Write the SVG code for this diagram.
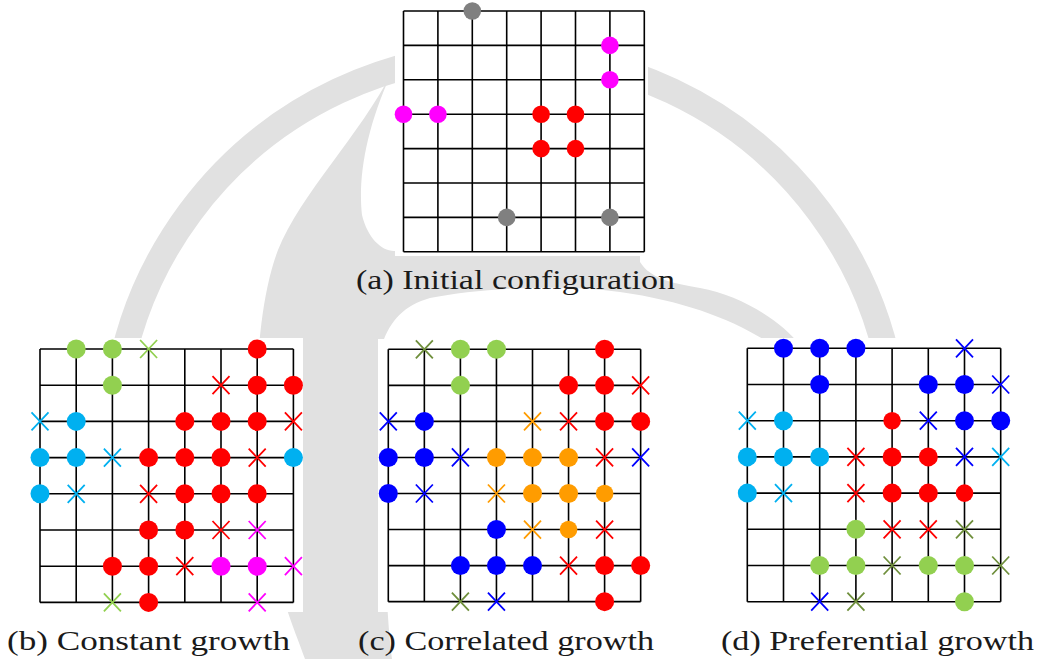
<svg xmlns="http://www.w3.org/2000/svg" xmlns:xlink="http://www.w3.org/1999/xlink" width="1037" height="659" viewBox="0 0 1037 659">
<style>
.bg{fill:#fff}
.wm{fill:#e1e1e1}
.wmring{fill:none;stroke:#e1e1e1;stroke-width:26}
.box{fill:#fff}
.grid{fill:none;stroke:#000;stroke-width:1.6}
.cap{font-family:"Liberation Serif","DejaVu Serif",serif;font-size:28px;fill:#1a1a1a}
</style>
<defs>
<circle id="d" r="9.5"/>
<circle id="ds" r="8.8"/>
<path id="x" d="M-8.5,-9L8.5,9M-8.5,9L8.5,-9" fill="none" stroke-width="1.8"/>
</defs>
<rect class="bg" x="0" y="0" width="1037" height="659"/>
<g id="watermark">
<path class="wmring" d="M130,560A392,392 0 1 1 880,560"/>
<path class="wm" d="M392,72C360,135 300,195 278,250C255,310 252,420 262,500C272,580 295,630 305,659L392,659C384,600 380,420 382,345C390,320 405,305 430,298C480,288 560,284 620,292C690,302 740,322 780,350L800,345C780,320 740,295 700,288C670,283 650,278 640,262L640,250L400,250C385,255 368,240 362,215C358,180 365,130 392,72Z"/>
</g>
<g id="panel-a">
<rect class="box" x="395" y="0" width="253" height="256"/>
<path class="grid" d="M403.5,11V251.8M437.9,11V251.8M472.3,11V251.8M506.7,11V251.8M541.1,11V251.8M575.5,11V251.8M609.9,11V251.8M644.3,11V251.8M403.5,11H644.3M403.5,45.4H644.3M403.5,79.8H644.3M403.5,114.2H644.3M403.5,148.6H644.3M403.5,183H644.3M403.5,217.4H644.3M403.5,251.8H644.3"/>
<use href="#ds" x="472.3" y="11" fill="#808080"/>
<use href="#ds" x="609.9" y="45.4" fill="#ff00ff"/>
<use href="#ds" x="609.9" y="79.8" fill="#ff00ff"/>
<use href="#ds" x="403.5" y="114.2" fill="#ff00ff"/>
<use href="#ds" x="437.9" y="114.2" fill="#ff00ff"/>
<use href="#ds" x="541.1" y="114.2" fill="#ff0000"/>
<use href="#ds" x="575.5" y="114.2" fill="#ff0000"/>
<use href="#ds" x="541.1" y="148.6" fill="#ff0000"/>
<use href="#ds" x="575.5" y="148.6" fill="#ff0000"/>
<use href="#ds" x="506.7" y="217.4" fill="#808080"/>
<use href="#ds" x="609.9" y="217.4" fill="#808080"/>
<text class="cap" x="356" y="289" textLength="319" lengthAdjust="spacingAndGlyphs">(a) Initial configuration</text>
</g>
<g id="panel-b">
<rect class="box" x="30" y="338" width="273" height="274"/>
<path class="grid" d="M40,349V602.4M76.2,349V602.4M112.4,349V602.4M148.6,349V602.4M184.8,349V602.4M221,349V602.4M257.2,349V602.4M293.4,349V602.4M40,349H293.4M40,385.2H293.4M40,421.4H293.4M40,457.6H293.4M40,493.8H293.4M40,530H293.4M40,566.2H293.4M40,602.4H293.4"/>
<use href="#d" x="76.2" y="349" fill="#92d050"/>
<use href="#d" x="112.4" y="349" fill="#92d050"/>
<use href="#x" x="148.6" y="349" stroke="#92d050"/>
<use href="#d" x="257.2" y="349" fill="#ff0000"/>
<use href="#d" x="112.4" y="385.2" fill="#92d050"/>
<use href="#x" x="221" y="385.2" stroke="#ff0000"/>
<use href="#d" x="257.2" y="385.2" fill="#ff0000"/>
<use href="#d" x="293.4" y="385.2" fill="#ff0000"/>
<use href="#x" x="40" y="421.4" stroke="#00b0f0"/>
<use href="#d" x="76.2" y="421.4" fill="#00b0f0"/>
<use href="#d" x="184.8" y="421.4" fill="#ff0000"/>
<use href="#d" x="221" y="421.4" fill="#ff0000"/>
<use href="#d" x="257.2" y="421.4" fill="#ff0000"/>
<use href="#x" x="293.4" y="421.4" stroke="#ff0000"/>
<use href="#d" x="40" y="457.6" fill="#00b0f0"/>
<use href="#d" x="76.2" y="457.6" fill="#00b0f0"/>
<use href="#x" x="112.4" y="457.6" stroke="#00b0f0"/>
<use href="#d" x="148.6" y="457.6" fill="#ff0000"/>
<use href="#d" x="184.8" y="457.6" fill="#ff0000"/>
<use href="#d" x="221" y="457.6" fill="#ff0000"/>
<use href="#x" x="257.2" y="457.6" stroke="#ff0000"/>
<use href="#d" x="293.4" y="457.6" fill="#00b0f0"/>
<use href="#d" x="40" y="493.8" fill="#00b0f0"/>
<use href="#x" x="76.2" y="493.8" stroke="#00b0f0"/>
<use href="#x" x="148.6" y="493.8" stroke="#ff0000"/>
<use href="#d" x="184.8" y="493.8" fill="#ff0000"/>
<use href="#d" x="221" y="493.8" fill="#ff0000"/>
<use href="#d" x="257.2" y="493.8" fill="#ff0000"/>
<use href="#d" x="148.6" y="530" fill="#ff0000"/>
<use href="#d" x="184.8" y="530" fill="#ff0000"/>
<use href="#x" x="221" y="530" stroke="#ff0000"/>
<use href="#x" x="257.2" y="530" stroke="#ff00ff"/>
<use href="#d" x="112.4" y="566.2" fill="#ff0000"/>
<use href="#d" x="148.6" y="566.2" fill="#ff0000"/>
<use href="#x" x="184.8" y="566.2" stroke="#ff0000"/>
<use href="#d" x="221" y="566.2" fill="#ff00ff"/>
<use href="#d" x="257.2" y="566.2" fill="#ff00ff"/>
<use href="#x" x="293.4" y="566.2" stroke="#ff00ff"/>
<use href="#x" x="112.4" y="602.4" stroke="#92d050"/>
<use href="#d" x="148.6" y="602.4" fill="#ff0000"/>
<use href="#x" x="257.2" y="602.4" stroke="#ff00ff"/>
<text class="cap" x="7" y="650" textLength="283" lengthAdjust="spacingAndGlyphs">(b) Constant growth</text>
</g>
<g id="panel-c">
<rect class="box" x="378" y="339" width="275" height="273"/>
<path class="grid" d="M388.3,349.3V601.65M424.35,349.3V601.65M460.4,349.3V601.65M496.45,349.3V601.65M532.5,349.3V601.65M568.55,349.3V601.65M604.6,349.3V601.65M640.65,349.3V601.65M388.3,349.3H640.65M388.3,385.35H640.65M388.3,421.4H640.65M388.3,457.45H640.65M388.3,493.5H640.65M388.3,529.55H640.65M388.3,565.6H640.65M388.3,601.65H640.65"/>
<use href="#x" x="424.35" y="349.3" stroke="#6f8f3c"/>
<use href="#d" x="460.4" y="349.3" fill="#92d050"/>
<use href="#d" x="496.45" y="349.3" fill="#92d050"/>
<use href="#d" x="604.6" y="349.3" fill="#ff0000"/>
<use href="#d" x="460.4" y="385.35" fill="#92d050"/>
<use href="#d" x="568.55" y="385.35" fill="#ff0000"/>
<use href="#d" x="604.6" y="385.35" fill="#ff0000"/>
<use href="#x" x="640.65" y="385.35" stroke="#ff0000"/>
<use href="#x" x="388.3" y="421.4" stroke="#0000ff"/>
<use href="#d" x="424.35" y="421.4" fill="#0000ff"/>
<use href="#x" x="532.5" y="421.4" stroke="#ff9c00"/>
<use href="#x" x="568.55" y="421.4" stroke="#ff0000"/>
<use href="#d" x="604.6" y="421.4" fill="#ff0000"/>
<use href="#d" x="640.65" y="421.4" fill="#ff0000"/>
<use href="#d" x="388.3" y="457.45" fill="#0000ff"/>
<use href="#d" x="424.35" y="457.45" fill="#0000ff"/>
<use href="#x" x="460.4" y="457.45" stroke="#0000ff"/>
<use href="#d" x="496.45" y="457.45" fill="#ff9c00"/>
<use href="#d" x="532.5" y="457.45" fill="#ff9c00"/>
<use href="#d" x="568.55" y="457.45" fill="#ff9c00"/>
<use href="#x" x="604.6" y="457.45" stroke="#ff0000"/>
<use href="#x" x="640.65" y="457.45" stroke="#0000ff"/>
<use href="#d" x="388.3" y="493.5" fill="#0000ff"/>
<use href="#x" x="424.35" y="493.5" stroke="#0000ff"/>
<use href="#x" x="496.45" y="493.5" stroke="#ff9c00"/>
<use href="#d" x="532.5" y="493.5" fill="#ff9c00"/>
<use href="#d" x="568.55" y="493.5" fill="#ff9c00"/>
<use href="#ds" x="604.6" y="493.5" fill="#ff9c00"/>
<use href="#d" x="496.45" y="529.55" fill="#0000ff"/>
<use href="#x" x="532.5" y="529.55" stroke="#ff9c00"/>
<use href="#ds" x="568.55" y="529.55" fill="#ff9c00"/>
<use href="#x" x="604.6" y="529.55" stroke="#ff0000"/>
<use href="#d" x="460.4" y="565.6" fill="#0000ff"/>
<use href="#d" x="496.45" y="565.6" fill="#0000ff"/>
<use href="#d" x="532.5" y="565.6" fill="#0000ff"/>
<use href="#x" x="568.55" y="565.6" stroke="#ff0000"/>
<use href="#d" x="604.6" y="565.6" fill="#ff0000"/>
<use href="#d" x="640.65" y="565.6" fill="#ff0000"/>
<use href="#x" x="460.4" y="601.65" stroke="#6f8f3c"/>
<use href="#x" x="496.45" y="601.65" stroke="#0000ff"/>
<use href="#d" x="604.6" y="601.65" fill="#ff0000"/>
<text class="cap" x="358" y="650" textLength="296" lengthAdjust="spacingAndGlyphs">(c) Correlated growth</text>
</g>
<g id="panel-d">
<rect class="box" x="737" y="338" width="273" height="274"/>
<path class="grid" d="M747.3,348.3V601.7M783.5,348.3V601.7M819.7,348.3V601.7M855.9,348.3V601.7M892.1,348.3V601.7M928.3,348.3V601.7M964.5,348.3V601.7M1000.7,348.3V601.7M747.3,348.3H1000.7M747.3,384.5H1000.7M747.3,420.7H1000.7M747.3,456.9H1000.7M747.3,493.1H1000.7M747.3,529.3H1000.7M747.3,565.5H1000.7M747.3,601.7H1000.7"/>
<use href="#d" x="783.5" y="348.3" fill="#0000ff"/>
<use href="#d" x="819.7" y="348.3" fill="#0000ff"/>
<use href="#d" x="855.9" y="348.3" fill="#0000ff"/>
<use href="#x" x="964.5" y="348.3" stroke="#0000ff"/>
<use href="#d" x="819.7" y="384.5" fill="#0000ff"/>
<use href="#d" x="928.3" y="384.5" fill="#0000ff"/>
<use href="#d" x="964.5" y="384.5" fill="#0000ff"/>
<use href="#x" x="1000.7" y="384.5" stroke="#0000ff"/>
<use href="#x" x="747.3" y="420.7" stroke="#00b0f0"/>
<use href="#d" x="783.5" y="420.7" fill="#00b0f0"/>
<use href="#ds" x="892.1" y="420.7" fill="#ff0000"/>
<use href="#x" x="928.3" y="420.7" stroke="#0000ff"/>
<use href="#d" x="964.5" y="420.7" fill="#0000ff"/>
<use href="#d" x="1000.7" y="420.7" fill="#0000ff"/>
<use href="#d" x="747.3" y="456.9" fill="#00b0f0"/>
<use href="#d" x="783.5" y="456.9" fill="#00b0f0"/>
<use href="#d" x="819.7" y="456.9" fill="#00b0f0"/>
<use href="#x" x="855.9" y="456.9" stroke="#ff0000"/>
<use href="#d" x="892.1" y="456.9" fill="#ff0000"/>
<use href="#d" x="928.3" y="456.9" fill="#ff0000"/>
<use href="#x" x="964.5" y="456.9" stroke="#0000ff"/>
<use href="#x" x="1000.7" y="456.9" stroke="#00b0f0"/>
<use href="#d" x="747.3" y="493.1" fill="#00b0f0"/>
<use href="#x" x="783.5" y="493.1" stroke="#00b0f0"/>
<use href="#x" x="855.9" y="493.1" stroke="#ff0000"/>
<use href="#d" x="892.1" y="493.1" fill="#ff0000"/>
<use href="#d" x="928.3" y="493.1" fill="#ff0000"/>
<use href="#ds" x="964.5" y="493.1" fill="#ff0000"/>
<use href="#d" x="855.9" y="529.3" fill="#92d050"/>
<use href="#x" x="892.1" y="529.3" stroke="#ff0000"/>
<use href="#x" x="928.3" y="529.3" stroke="#ff0000"/>
<use href="#x" x="964.5" y="529.3" stroke="#6f8f3c"/>
<use href="#d" x="819.7" y="565.5" fill="#92d050"/>
<use href="#d" x="855.9" y="565.5" fill="#92d050"/>
<use href="#x" x="892.1" y="565.5" stroke="#6f8f3c"/>
<use href="#d" x="928.3" y="565.5" fill="#92d050"/>
<use href="#d" x="964.5" y="565.5" fill="#92d050"/>
<use href="#x" x="1000.7" y="565.5" stroke="#6f8f3c"/>
<use href="#x" x="819.7" y="601.7" stroke="#0000ff"/>
<use href="#x" x="855.9" y="601.7" stroke="#6f8f3c"/>
<use href="#d" x="964.5" y="601.7" fill="#92d050"/>
<text class="cap" x="721" y="650" textLength="313" lengthAdjust="spacingAndGlyphs">(d) Preferential growth</text>
</g>
</svg>
